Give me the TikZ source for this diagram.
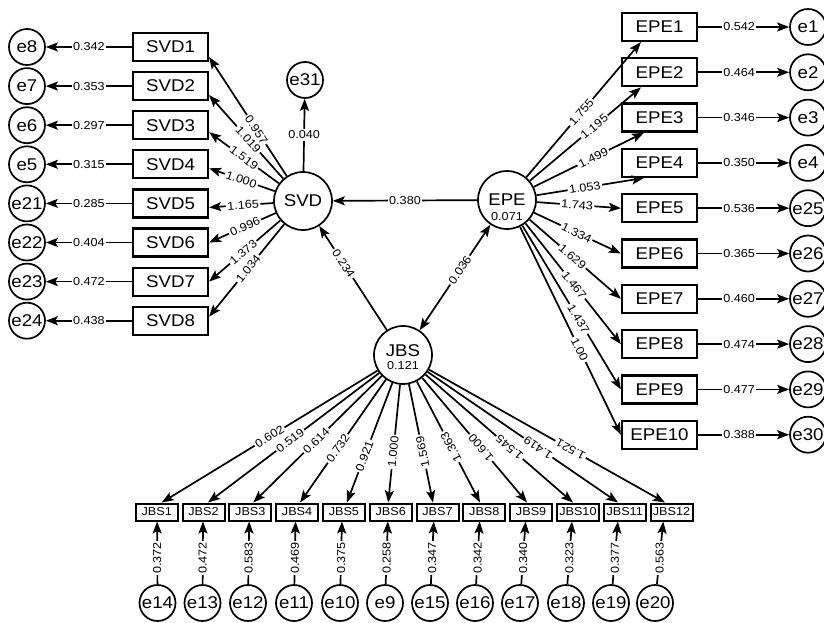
\documentclass[tikz,border=0pt]{standalone}
\usepackage{fontspec}
\setmainfont[FakeStretch=1.1]{Liberation Sans}
\usetikzlibrary{arrows.meta,calc}
\newcommand\fbig{\fontsize{17}{19}\selectfont}
\newcommand\fsmall{\fontsize{11.5}{13}\selectfont}
\newcommand\fjbs{\fontsize{11.5}{13}\selectfont}
\begin{document}
\begin{tikzpicture}[x=1pt,y=-1pt,
  >={Stealth[length=12pt,width=9pt,inset=2.5pt]},
  lat/.style={circle,draw,line width=1.7pt,minimum size=58pt,inner sep=0pt,font=\fbig},
  err/.style={circle,draw,line width=1.7pt,minimum size=36pt,inner sep=0pt,font=\fbig},
  obs/.style={draw,line width=2.2pt,minimum width=75pt,minimum height=28pt,inner sep=0pt,font=\fbig},
  jobs/.style={draw,line width=2pt,minimum width=42pt,minimum height=17pt,inner sep=0pt,font=\fjbs},
  conn/.style={line width=1.7pt,->},
  lab/.style={fill=white,inner sep=1.5pt,font=\fsmall},
  txt/.style={inner sep=0pt,font=\fbig},
  val/.style={inner sep=0pt,font=\fsmall}]
\path[use as bounding box,fill=white] (0,0) rectangle (824,623);

% latent variables
\node[lat] (SVD) at (303,201) {SVD};
\node[lat] (EPE) at (507,200) {};
\node[txt] (EPEt) at (507,200) {EPE};
\node[val] (EPEv) at (507,217) {0.071};
\node[lat] (JBS) at (403,355) {};
\node[txt] (JBSt) at (403,351) {JBS};
\node[val] (JBSv) at (403,366) {0.121};
\node[err] (e31) at (305,80) {e31};

% SVD indicators
\foreach \i/\y/\e/\v/\w/\p/\o in {1/47/e8/0.342/0.957/0.39/10, 2/86.1/e7/0.353/1.019/0.47/9, 3/125.2/e6/0.297/1.519/0.5/7, 4/164.3/e5/0.315/1.000/0.51/4, 5/203.4/e21/0.285/1.165/0.47/4, 6/242.5/e22/0.404/0.996/0.46/0, 7/281.6/e23/0.472/1.373/0.52/0, 8/320.7/e24/0.438/1.034/0.48/-4}{
  \node[obs] (SVD\i) at (170.5,\y) {SVD\i};
  \node[err] (\e) at (27,\y) {\e};
  \draw[conn] (SVD\i) -- node[lab]{\v} (\e);
  \draw[conn] (SVD) -- node[lab,sloped,pos=\p]{\w} ($(SVD\i.east)+(0,\o)$);
}

% EPE indicators
\foreach \i/\y/\e/\v/\w/\p/\a/\dx in {1/27/e1/0.542/1.755/0.48/south west/20, 2/72.3/e2/0.464/1.195/0.58/south west/20, 3/117.6/e3/0.346/1.499/0.54/south west/23, 4/162.9/e4/0.350/1.053/0.45/south west/23, 5/208.2/e25/0.536/1.743/0.48/west/0, 6/253.5/e26/0.365/1.334/0.49/west/0, 7/298.8/e27/0.460/1.629/0.47/west/0, 8/344.1/e28/0.474/1.467/0.51/west/0, 9/389.4/e29/0.477/1.437/0.57/west/0, 10/434.7/e30/0.388/1.00/0.59/west/0}{
  \node[obs] (EPE\i) at (659.5,\y) {EPE\i};
  \node[err] (\e) at (808,\y) {\e};
  \draw[conn] (EPE\i) -- node[lab,pos=0.45]{\v} (\e);
  \draw[conn] (EPE) -- node[lab,sloped,pos=\p]{\w} ($(EPE\i.\a)+(\dx,0)$);
}

% JBS indicators
\foreach \i/\bx/\e/\ex/\v/\w/\p/\dx in {
1/156.7/e14/157.5/0.372/0.602/0.50/5,
2/203.5/e13/202.5/0.472/0.519/0.48/4.5,
3/250.3/e12/248/0.583/0.614/0.49/3,
4/297.1/e11/294/0.469/0.732/0.44/3,
5/343.9/e10/340/0.375/0.921/0.39/3,
6/390.7/e9/385/0.258/1.000/0.43/-2.5,
7/437.5/e15/430/0.347/1.569/0.43/-4.5,
8/484.3/e16/475/0.342/1.363/0.46/-4.3,
9/531.1/e17/520/0.340/1.600/0.44/-4.1,
10/577.9/e18/566/0.323/1.545/0.43/-5,
11/624.7/e19/611/0.377/1.419/0.42/-6.7,
12/671.5/e20/655/0.563/1.521/0.40/-6.5}{
  \node[jobs] (J\i) at (\bx,512) {JBS\i};
  \node[err] (\e) at (\ex,603) {\e};
  \coordinate (m\i) at ({(\bx+\ex)/2},512);
  \draw[conn] (\e) -- node[lab,rotate=90,pos=0.42]{\v} (m\i |- J\i.south);
  \draw[conn,<-] ($(J\i.north)+(\dx,0)$) -- node[lab,sloped,allow upside down,pos=\p]{\w} (JBS);
}

% structural paths
\draw[conn] (SVD) -- node[lab]{0.040} (e31);
\draw[conn] (EPE) -- node[lab]{0.380} (SVD);
\draw[conn] (JBS) -- node[lab,sloped,pos=0.64]{0.234} (SVD);
\draw[conn,<->] (JBS) -- node[lab,sloped,pos=0.57]{0.036} (EPE);
\end{tikzpicture}
\end{document}
